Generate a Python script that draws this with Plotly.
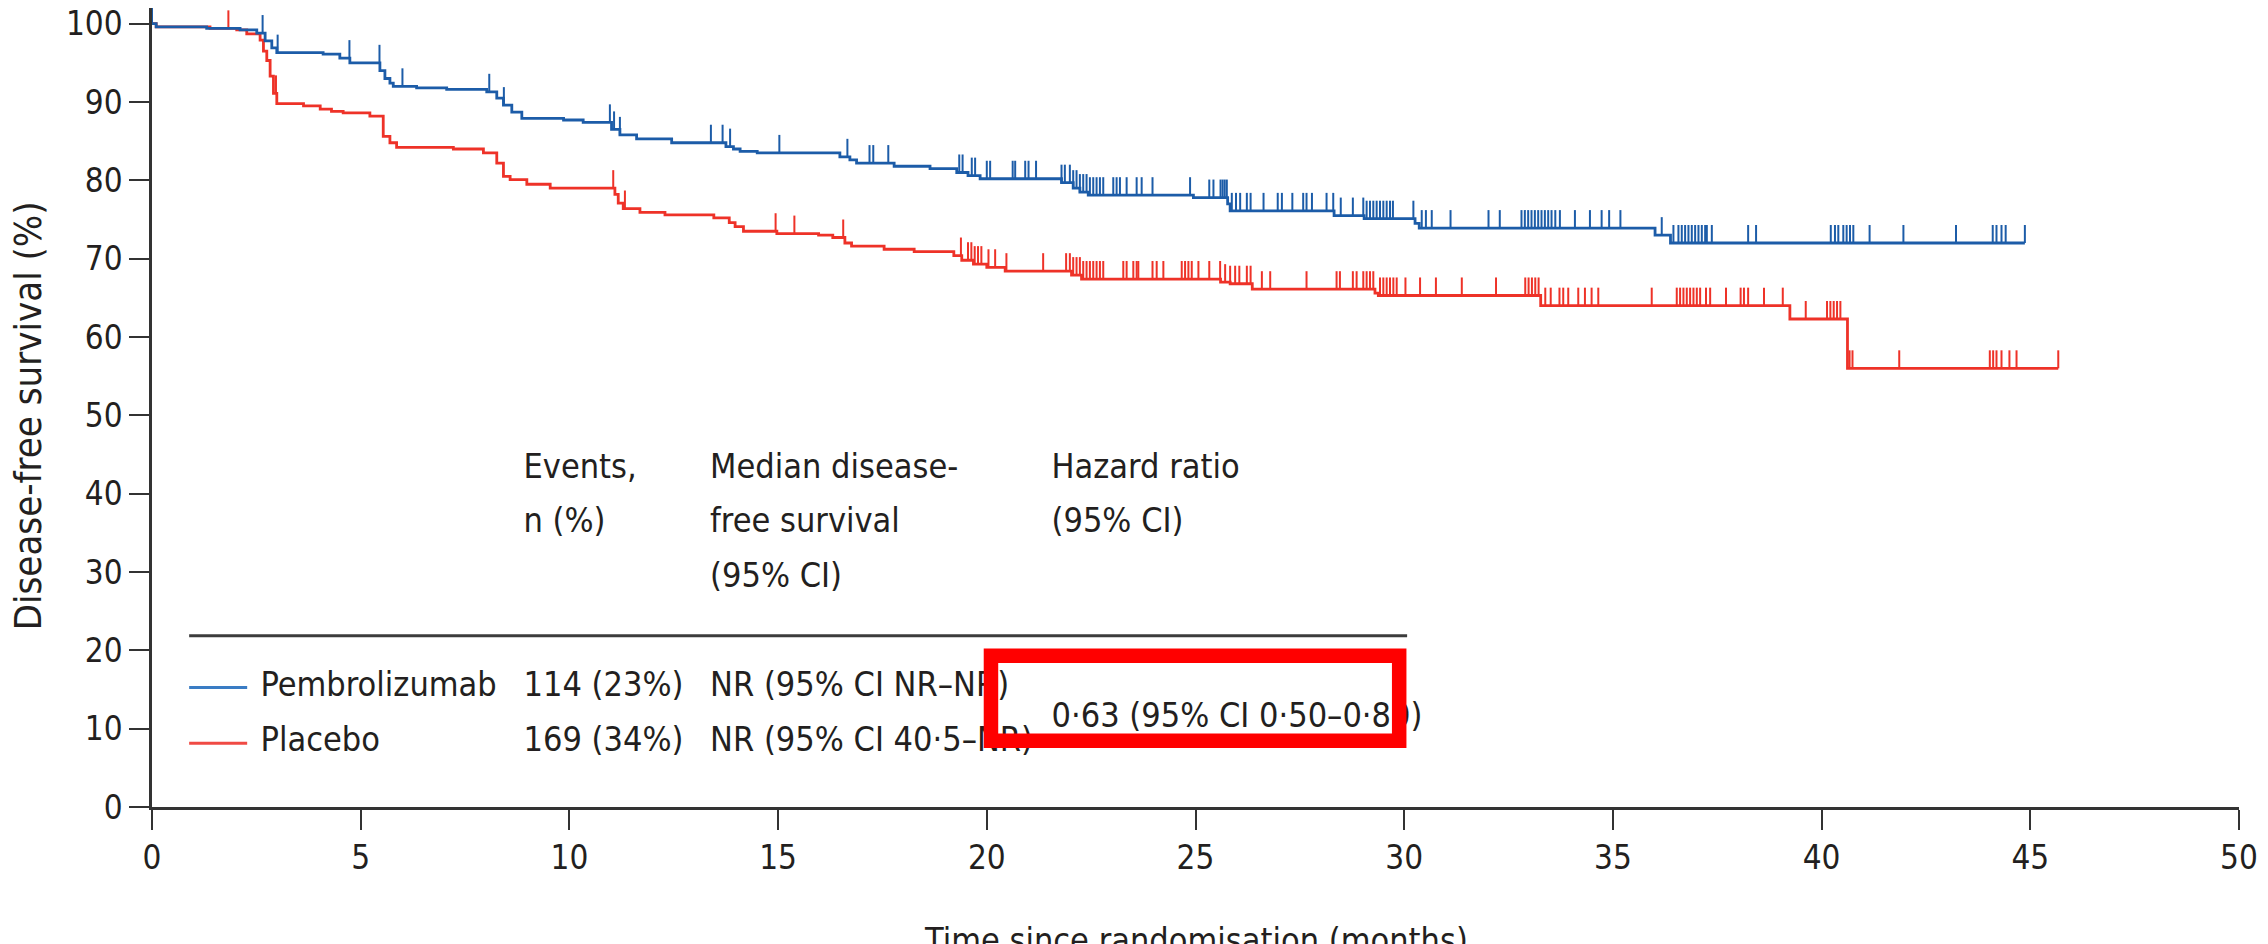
import plotly.graph_objects as go

# ---- Kaplan-Meier data: drop times (months) and survival (%) after each drop ----
pembro_times = [0.1, 1.31, 2.11, 2.51, 2.71, 2.87, 2.99, 4.1, 4.5, 4.74, 5.46, 5.58, 5.7, 5.78,
                6.34, 7.06, 8.02, 8.26, 8.42, 8.62, 8.86, 9.86, 10.33, 11.01, 11.21, 11.61,
                12.45, 13.75, 13.93, 14.09, 14.5, 16.48, 16.72, 16.88, 17.78, 18.64, 19.28,
                19.55, 19.84, 21.79, 22.07, 22.23, 22.43, 24.95, 25.77, 25.83, 28.32, 29.04,
                30.26, 30.36, 36.01, 36.38]
pembro_surv = [99.6, 99.4, 99.2, 98.8, 97.8, 96.9, 96.3, 96.1, 95.6, 95.0, 94.0, 93.0, 92.4, 92.0,
               91.8, 91.6, 91.3, 90.5, 89.6, 88.7, 87.9, 87.7, 87.4, 86.5, 85.8, 85.3,
               84.8, 84.3, 84.0, 83.7, 83.5, 83.0, 82.6, 82.2, 81.8, 81.5, 81.0,
               80.6, 80.2, 79.7, 79.0, 78.5, 78.1, 77.8, 77.0, 76.1, 75.5, 75.1,
               74.5, 73.9, 73.0, 72.0]
pembro_end = 44.87
pembro_censor = [0.0, 2.65, 3.01, 4.73, 5.45, 6.0, 8.08, 8.43, 10.97, 11.07, 11.21, 13.39, 13.67,
                 13.85, 15.03, 16.66, 17.19, 17.28, 17.64, 19.34, 19.42, 19.64, 19.72, 20.0, 20.08,
                 20.62, 20.68, 20.92, 21.0, 21.18, 21.79, 21.87, 21.99, 22.07, 22.15, 22.23, 22.31,
                 22.39, 22.47, 22.55, 22.63, 22.71, 22.79, 23.03, 23.11, 23.19, 23.35, 23.59, 23.71,
                 23.97, 24.87, 25.33, 25.43, 25.6, 25.65, 25.7, 25.75, 25.87, 25.97, 26.07, 26.23,
                 26.32, 26.63, 26.97, 27.07, 27.32, 27.58, 27.66, 27.79, 28.14, 28.3, 28.48, 28.77,
                 29.02, 29.1, 29.18, 29.26, 29.34, 29.42, 29.5, 29.58, 29.66, 29.73, 30.22, 30.42,
                 30.52, 30.66, 31.11, 32.02, 32.29, 32.81, 32.89, 32.97, 33.05, 33.13, 33.21, 33.29,
                 33.37, 33.45, 33.53, 33.62, 33.73, 34.09, 34.45, 34.73, 34.91, 35.18, 36.17, 36.45,
                 36.57, 36.65, 36.73, 36.81, 36.89, 36.97, 37.05, 37.13, 37.21, 37.25, 37.37, 38.24,
                 38.43, 40.22, 40.32, 40.4, 40.52, 40.6, 40.68, 40.76, 41.15, 41.96, 43.22, 44.1,
                 44.19, 44.31, 44.41, 44.87]

placebo_times = [0.1, 1.39, 2.03, 2.27, 2.59, 2.67, 2.75, 2.83, 2.91, 2.99, 3.63, 4.03, 4.3, 4.58,
                 5.22, 5.54, 5.7, 5.86, 7.22, 7.94, 8.26, 8.42, 8.58, 8.98, 9.54, 11.09, 11.17,
                 11.29, 11.69, 12.29, 13.46, 13.83, 13.97, 14.17, 14.97, 15.97, 16.31, 16.6, 16.76,
                 17.54, 18.26, 19.21, 19.4, 19.68, 20.0, 20.44, 22.03, 22.27, 25.6, 25.83, 26.36,
                 29.3, 29.38, 33.27, 39.24, 40.62]
placebo_surv = [99.6, 99.4, 99.2, 98.7, 97.9, 96.5, 95.3, 93.3, 91.1, 89.8, 89.5, 89.1, 88.8, 88.6,
                88.2, 85.6, 84.8, 84.2, 84.0, 83.5, 82.2, 80.5, 80.1, 79.5, 79.0, 78.2, 77.1,
                76.4, 75.9, 75.6, 75.2, 74.6, 74.1, 73.5, 73.2, 73.0, 72.7, 72.0, 71.6,
                71.2, 70.9, 70.4, 69.8, 69.3, 68.9, 68.4, 67.9, 67.4, 67.0, 66.8, 66.1,
                65.6, 65.3, 64.0, 62.3, 56.0]
placebo_end = 45.67
placebo_censor = [0.0, 1.83, 2.97, 11.05, 11.33, 14.94, 15.39, 16.56, 19.38, 19.55, 19.63, 19.71,
                  19.79, 19.87, 20.04, 20.2, 20.47, 21.35, 21.9, 21.99, 22.07, 22.15, 22.23, 22.31,
                  22.39, 22.47, 22.55, 22.63, 22.71, 22.79, 23.27, 23.35, 23.51, 23.59, 23.63, 23.97,
                  24.07, 24.23, 24.67, 24.75, 24.83, 24.91, 25.07, 25.33, 25.59, 25.71, 25.83, 25.95,
                  26.05, 26.23, 26.32, 26.59, 26.79, 27.66, 28.38, 28.46, 28.77, 28.86, 29.02, 29.1,
                  29.18, 29.26, 29.42, 29.5, 29.58, 29.66, 29.74, 29.82, 30.03, 30.38, 30.76, 31.38,
                  32.2, 32.9, 32.98, 33.06, 33.14, 33.22, 33.38, 33.51, 33.72, 33.81, 33.93, 34.17,
                  34.33, 34.49, 34.65, 35.93, 36.53, 36.61, 36.69, 36.77, 36.85, 36.93, 37.01, 37.09,
                  37.23, 37.33, 37.71, 38.06, 38.14, 38.24, 38.62, 39.07, 39.62, 40.13, 40.21, 40.29,
                  40.37, 40.45, 40.67, 40.74, 41.86, 44.03, 44.11, 44.19, 44.31, 44.5, 44.67, 45.67]

# ---- summary table ----
arm_names = ["Pembrolizumab", "Placebo"]
events = ["114 (23%)", "169 (34%)"]
median_dfs = ["NR (95% CI NR–NR)", "NR (95% CI 40·5–NR)"]
hazard_ratio = "0·63 (95% CI 0·50–0·80)"
header_lines = [["Events,", "n (%)"],
                ["Median disease-", "free survival", "(95% CI)"],
                ["Hazard ratio", "(95% CI)"]]

x_ticks = list(range(0, 55, 5))
y_ticks = list(range(0, 110, 10))

BLUE = "#1c5ca8"
RED = "#ee3228"
INK = "#231f20"
AXIS = "#333333"
NARROW = "DejaVu Sans Condensed, Liberation Sans, sans-serif"
TICK_H = 2.3


def step_value(times, surv, t):
    value = 100.0
    for ti, si in zip(times, surv):
        if ti <= t:
            value = si
        else:
            break
    return value


def km_trace(times, surv, end, color, name):
    xs = [0.0] + times + [end]
    ys = [100.0] + surv + [surv[-1]]
    return go.Scatter(x=xs, y=ys, mode="lines", line=dict(color=color, width=2.8, shape="hv"),
                      name=name, showlegend=False, hoverinfo="skip")


def censor_trace(times, surv, censor, color):
    xs, ys = [], []
    for c in censor:
        s = step_value(times, surv, c)
        xs += [c, c, None]
        ys += [s, s + TICK_H, None]
    return go.Scatter(x=xs, y=ys, mode="lines", line=dict(color=color, width=2),
                      showlegend=False, hoverinfo="skip")


def text_trace(xs, ys, labels):
    return go.Scatter(x=xs, y=ys, text=labels, mode="text", textposition="bottom right",
                      textfont=dict(family=NARROW, size=34, color=INK),
                      showlegend=False, hoverinfo="skip")


fig = go.Figure()
fig.add_trace(km_trace(placebo_times, placebo_surv, placebo_end, RED, "Placebo"))
fig.add_trace(censor_trace(placebo_times, placebo_surv, placebo_censor, RED))
fig.add_trace(km_trace(pembro_times, pembro_surv, pembro_end, BLUE, "Pembrolizumab"))
fig.add_trace(censor_trace(pembro_times, pembro_surv, pembro_censor, BLUE))

# table text, laid out in data units of the axes
col_x = [8.9, 13.37, 21.55]
header_top = 45.3
line_pitch = 6.99
row_y = [17.45, 10.35]
for cx, lines in zip(col_x, header_lines):
    fig.add_trace(text_trace([cx] * len(lines),
                             [header_top - i * line_pitch for i in range(len(lines))], lines))
fig.add_trace(text_trace([2.6, 2.6], row_y, arm_names))
fig.add_trace(text_trace([col_x[0]] * 2, row_y, events))
fig.add_trace(text_trace([col_x[1]] * 2, row_y, median_dfs))
fig.add_trace(text_trace([col_x[2]], [13.5], [hazard_ratio]))

shapes = [
    dict(type="line", xref="x", yref="y", x0=0.89, x1=30.07, y0=21.85, y1=21.85,
         line=dict(color="#3c3c3c", width=3)),
    dict(type="line", xref="x", yref="y", x0=0.89, x1=2.28, y0=15.24, y1=15.24,
         line=dict(color="#3a7cc4", width=3)),
    dict(type="line", xref="x", yref="y", x0=0.89, x1=2.28, y0=8.13, y1=8.13,
         line=dict(color="#f04a44", width=3)),
    dict(type="rect", xref="x", yref="y", x0=20.1, x1=29.88, y0=8.45, y1=19.3,
         line=dict(color="#ff0000", width=14.5), layer="above"),
]

annotations = [
    dict(text="Disease-free survival (%)", textangle=-90, xref="paper", yref="paper",
         x=0, xshift=-124, y=0.489, xanchor="center", yanchor="middle", showarrow=False,
         font=dict(family=NARROW, size=38, color=INK)),
    dict(text="Time since randomisation (months)", xref="paper", yref="paper",
         x=0.5, y=0, yshift=-111, xanchor="center", yanchor="top", showarrow=False,
         font=dict(family=NARROW, size=34, color=INK)),
]

fig.update_layout(
    width=2268, height=944,
    margin=dict(l=152, r=29, t=4, b=137),
    paper_bgcolor="white", plot_bgcolor="white",
    shapes=shapes, annotations=annotations,
    showlegend=False,
)
axis_common = dict(showline=True, linecolor=AXIS, linewidth=2.5, ticks="outside", ticklen=20,
                   tickwidth=2, tickcolor=AXIS, showgrid=False, zeroline=False,
                   ticklabeloverflow="allow",
                   tickfont=dict(family=NARROW, size=33, color=INK))
fig.update_xaxes(range=[0, 50], tickvals=x_ticks, **axis_common)
fig.update_yaxes(range=[0, 102], tickvals=y_ticks, **axis_common)

fig.write_html("out.html")
